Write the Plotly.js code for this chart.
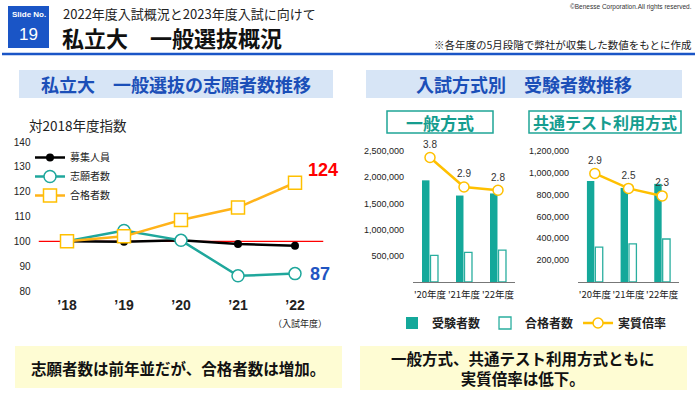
<!DOCTYPE html>
<html><head><meta charset="utf-8">
<script src="https://cdn.plot.ly/plotly-3.0.1.min.js"></script>
<style>html,body{margin:0;padding:0;background:#fff}#chart{width:700px;height:393px}</style>
</head><body><div id="chart"></div>
<script>
// ---- data ----
const years = ["’18", "’19", "’20", "’21", "’22"];
const baseIndex = 100;
const boshuIndex = [100, 99.8, 100.4, 98.9, 98.2];      // 募集人員
const shiganIndex = [100, 104.4, 100.4, 86.1, 87.0];    // 志願者数
const gokakuIndex = [100, 102.0, 108.6, 113.6, 123.6];  // 合格者数
const leftTicks = [80, 90, 100, 110, 120, 130, 140];

const fiscal = ["'20年度", "'21年度", "'22年度"];
const ippanJuken = [1940000, 1650000, 1690000];
const ippanGokaku = [510000, 565000, 610000];
const ippanRatio = [3.8, 2.9, 2.8];
const ippanTicks = [500000, 1000000, 1500000, 2000000, 2500000];
const kyotsuJuken = [925000, 862000, 899000];
const kyotsuGokaku = [320000, 349000, 394000];
const kyotsuRatio = [2.9, 2.5, 2.3];
const kyotsuTicks = [200000, 400000, 600000, 800000, 1000000, 1200000];

// ---- helpers ----
const W = 700, H = 393;
const px = x => x / W, py = y => 1 - y / H;
const JP = '"Noto Sans CJK JP", "Noto Sans", sans-serif';
const NUM = '"Liberation Sans", Arial, sans-serif';
const BLUE = '#1a55c6', TEAL = '#14a89a', GOLD = '#ffc000', ORANGE = '#ffb31a';

const traces = [
  {x: years, y: boshuIndex, name: '募集人員', type: 'scatter', mode: 'lines+markers', xaxis: 'x', yaxis: 'y',
   line: {color: '#000', width: 2.5}, marker: {symbol: 'circle', size: 8, color: '#000'}, legend: 'legend'},
  {x: years, y: shiganIndex, name: '志願者数', type: 'scatter', mode: 'lines+markers', xaxis: 'x', yaxis: 'y',
   line: {color: '#1fa79c', width: 2.5}, marker: {symbol: 'circle', size: 12, color: '#fff', line: {color: '#1fa79c', width: 1.5}}, legend: 'legend'},
  {x: years, y: gokakuIndex, name: '合格者数', type: 'scatter', mode: 'lines+markers', xaxis: 'x', yaxis: 'y',
   line: {color: ORANGE, width: 2.5}, marker: {symbol: 'square', size: 13, color: '#fff', line: {color: GOLD, width: 1.5}}, legend: 'legend'},

  {x: fiscal, y: ippanJuken, name: '受験者数', type: 'bar', xaxis: 'x2', yaxis: 'y2',
   marker: {color: TEAL, line: {width: 0}}, legend: 'legend2'},
  {x: fiscal, y: ippanGokaku, name: '合格者数', type: 'bar', xaxis: 'x2', yaxis: 'y2',
   marker: {color: '#fff', line: {color: '#2aae9f', width: 1.3}}, legend: 'legend2'},
  {x: fiscal, y: ippanRatio, name: '実質倍率', type: 'scatter', mode: 'lines+markers+text', xaxis: 'x2', yaxis: 'y3', cliponaxis: false,
   text: ippanRatio.map(v => v.toFixed(1)), textposition: 'top center', textfont: {family: NUM, size: 10, color: '#333'},
   line: {color: GOLD, width: 2.5}, marker: {symbol: 'circle', size: 10, color: '#fff', line: {color: GOLD, width: 1.5}}, legend: 'legend2'},

  {x: fiscal, y: kyotsuJuken, name: '受験者数', type: 'bar', xaxis: 'x3', yaxis: 'y4', showlegend: false,
   marker: {color: TEAL, line: {width: 0}}},
  {x: fiscal, y: kyotsuGokaku, name: '合格者数', type: 'bar', xaxis: 'x3', yaxis: 'y4', showlegend: false,
   marker: {color: '#fff', line: {color: '#2aae9f', width: 1.3}}},
  {x: fiscal, y: kyotsuRatio, name: '実質倍率', type: 'scatter', mode: 'lines+markers+text', xaxis: 'x3', yaxis: 'y5', showlegend: false, cliponaxis: false,
   text: kyotsuRatio.map(v => v.toFixed(1)), textposition: 'top center', textfont: {family: NUM, size: 10, color: '#333'},
   line: {color: GOLD, width: 2.5}, marker: {symbol: 'circle', size: 10, color: '#fff', line: {color: GOLD, width: 1.5}}}
];

const hiddenY = {showgrid: false, zeroline: false, showline: false, showticklabels: false, fixedrange: true};
const layout = {
  width: W, height: H, margin: {l: 0, r: 0, t: 0, b: 0},
  paper_bgcolor: '#fff', plot_bgcolor: 'rgba(0,0,0,0)',
  font: {family: JP, color: '#222'},
  barmode: 'group', bargap: 0.5, bargroupgap: 0.12,
  xaxis: {domain: [px(38.5), px(323.5)], type: 'category', range: [-0.5, 4.5], showgrid: false, zeroline: false, showline: false,
          tickfont: {family: NUM, size: 14, color: '#222', weight: 'bold'}, ticklabelstandoff: 4},
  yaxis: {domain: [py(291), py(142)], range: [80, 140], tickvals: leftTicks, showgrid: false, zeroline: false, showline: false,
          tickfont: {family: NUM, size: 10, color: '#222'}, ticklabelstandoff: 7},
  xaxis2: {domain: [px(413), px(515)], type: 'category', range: [-0.5, 2.5], showgrid: false, zeroline: false, tickangle: 0,
           showline: true, linecolor: '#777', linewidth: 1, tickfont: {family: JP, size: 9.5, color: '#222'}, ticklabelstandoff: 4, anchor: 'y2'},
  yaxis2: {domain: [py(282), py(151)], range: [0, 2500000], tickvals: ippanTicks, tickformat: ',', showgrid: false, zeroline: false, showline: false,
           tickfont: {family: NUM, size: 9, color: '#222'}, ticklabelstandoff: 8, anchor: 'x2'},
  yaxis3: Object.assign({overlaying: 'y2', range: [0, 4], anchor: 'x2'}, hiddenY),
  xaxis3: {domain: [px(578), px(679)], type: 'category', range: [-0.5, 2.5], showgrid: false, zeroline: false, tickangle: 0,
           showline: true, linecolor: '#777', linewidth: 1, tickfont: {family: JP, size: 9.5, color: '#222'}, ticklabelstandoff: 4, anchor: 'y4'},
  yaxis4: {domain: [py(282), py(151)], range: [0, 1200000], tickvals: kyotsuTicks, tickformat: ',', showgrid: false, zeroline: false, showline: false,
           tickfont: {family: NUM, size: 9, color: '#222'}, ticklabelstandoff: 8, anchor: 'x3'},
  yaxis5: Object.assign({overlaying: 'y4', range: [0, 3.5], anchor: 'x3'}, hiddenY),
  legend: {x: px(30), y: py(143), xanchor: 'left', yanchor: 'top', bgcolor: 'rgba(0,0,0,0)', itemwidth: 30,
           font: {family: JP, size: 10, color: '#222'}, tracegroupgap: 0},
  legend2: {orientation: 'h', x: px(532), y: py(323), xanchor: 'center', yanchor: 'middle', bgcolor: 'rgba(0,0,0,0)', itemwidth: 30,
            font: {family: JP, size: 12, color: '#222', weight: 'bold'}},
  shapes: [
    {type: 'rect', xref: 'paper', yref: 'paper', x0: px(8), x1: px(49), y0: py(48), y1: py(6), fillcolor: BLUE, line: {width: 0}},
    {type: 'line', xref: 'paper', yref: 'paper', x0: px(2), x1: px(695), y0: py(54), y1: py(54), line: {color: BLUE, width: 2.5}},
    {type: 'rect', xref: 'paper', yref: 'paper', x0: px(19), x1: px(333), y0: py(98), y1: py(70), fillcolor: '#d7e5f6', line: {width: 0}},
    {type: 'rect', xref: 'paper', yref: 'paper', x0: px(366), x1: px(682), y0: py(98), y1: py(70), fillcolor: '#d7e5f6', line: {width: 0}},
    {type: 'rect', xref: 'paper', yref: 'paper', x0: px(387), x1: px(493), y0: py(133), y1: py(111), fillcolor: '#fff', line: {color: '#1fa597', width: 1.5}},
    {type: 'rect', xref: 'paper', yref: 'paper', x0: px(529), x1: px(681), y0: py(133), y1: py(111), fillcolor: '#fff', line: {color: '#1fa597', width: 1.5}},
    {type: 'rect', xref: 'paper', yref: 'paper', x0: px(15), x1: px(342), y0: py(388), y1: py(346), fillcolor: '#fefcd3', line: {width: 0}},
    {type: 'rect', xref: 'paper', yref: 'paper', x0: px(360), x1: px(687), y0: py(390), y1: py(346), fillcolor: '#fefcd3', line: {width: 0}},
    {type: 'line', xref: 'x', yref: 'y', x0: -0.5, x1: 4.5, y0: baseIndex, y1: baseIndex, line: {color: '#ff0000', width: 1.2}, layer: 'below'}
  ],
  annotations: []
};

function ann(text, x, y, size, opts) {
  layout.annotations.push(Object.assign({text: text, xref: 'paper', yref: 'paper', x: px(x), y: py(y),
    xanchor: 'left', yanchor: 'middle', showarrow: false, font: {family: JP, size: size, color: '#222'}}, opts || {}));
}
ann('Slide No.', 28.5, 15, 8, {xanchor: 'center', font: {family: NUM, size: 8, color: '#fff', weight: 'bold'}});
ann('19', 28.5, 34, 17, {xanchor: 'center', font: {family: NUM, size: 17, color: '#fff'}});
ann('2022年度入試概況と2023年度入試に向けて', 61, 14, 13);
ann('私立大　一般選抜概況', 60, 37, 22, {font: {family: JP, size: 22, color: '#111', weight: 'bold'}});
ann('※各年度の5月段階で弊社が収集した数値をもとに作成', 694, 44, 10.5, {xanchor: 'right'});
ann('©Benesse Corporation.All rights reserved.', 694, 7, 6.5, {xanchor: 'right', font: {family: NUM, size: 6.5, color: '#333'}});
ann('私立大　一般選抜の志願者数推移', 176, 84, 18, {xanchor: 'center', font: {family: JP, size: 18, color: '#1b4fb8', weight: 'bold'}});
ann('入試方式別　受験者数推移', 524, 84, 18, {xanchor: 'center', font: {family: JP, size: 18, color: '#1b4fb8', weight: 'bold'}});
ann('一般方式', 440, 122, 17, {xanchor: 'center', font: {family: JP, size: 17, color: '#159d8f', weight: 'bold'}});
ann('共通テスト利用方式', 605, 122, 16, {xanchor: 'center', font: {family: JP, size: 16, color: '#159d8f', weight: 'bold'}});
ann('対2018年度指数', 27, 125, 13.5);
ann('（入試年度）', 300, 323, 9, {xanchor: 'center'});
ann('志願者数は前年並だが、合格者数は増加。', 178, 368, 15.5, {xanchor: 'center', font: {family: JP, size: 15.5, color: '#111', weight: 'bold'}});
ann('一般方式、共通テスト利用方式ともに<br>実質倍率は低下。', 523, 368, 15.5, {xanchor: 'center', font: {family: JP, size: 15.5, color: '#111', weight: 'bold'}});

// value labels at the last point of the left chart
const last = years.length - 1;
layout.annotations.push({text: String(Math.round(gokakuIndex[last])), xref: 'x', yref: 'y', x: years[last], y: gokakuIndex[last],
  xshift: 28, yshift: 13, showarrow: false, font: {family: NUM, size: 18, color: '#ff0000', weight: 'bold'}});
layout.annotations.push({text: String(Math.round(shiganIndex[last])), xref: 'x', yref: 'y', x: years[last], y: shiganIndex[last],
  xshift: 25, yshift: 0, showarrow: false, font: {family: NUM, size: 18, color: '#1f55c2', weight: 'bold'}});

Plotly.newPlot('chart', traces, layout, {displayModeBar: false, staticPlot: true});
</script></body></html>
